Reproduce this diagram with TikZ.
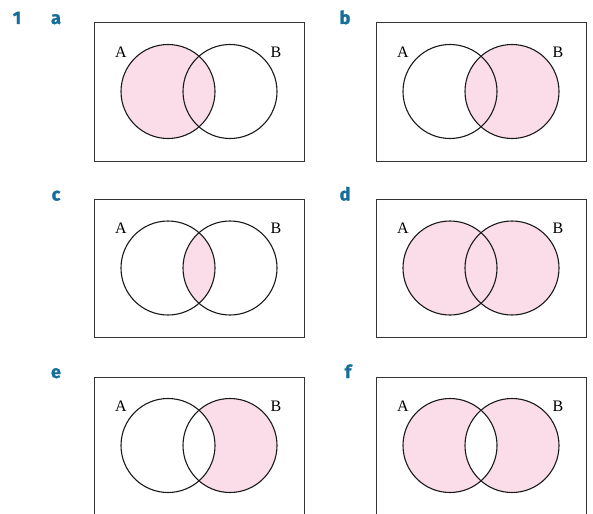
\documentclass[tikz,border=0pt]{standalone}
\usepackage{fontspec}
\setmainfont{Liberation Serif}
\newfontfamily\labfont[BoldFeatures={FakeBold=1.5}]{Fira Sans}
\definecolor{vpink}{HTML}{FADDE8}
\definecolor{vblue}{HTML}{156E99}
\tikzset{
  frame/.style={draw=black!80, line width=1pt},
  ring/.style={draw=black!90, line width=1.1pt},
  setlab/.style={font=\fontsize{16}{16}\selectfont, inner sep=0pt},
  partlab/.style={font=\labfont\bfseries\fontsize{18}{18}\selectfont, text=vblue, inner sep=0pt, anchor=base}
}
\newcommand\vpanel[4]{%
\begin{scope}[shift={(#1,#2)}]
  #4
  \draw[frame] (94,23) rectangle (304,161);
  \draw[ring] (168,91.5) circle (47);
  \draw[ring] (230,91.5) circle (47);
  \node[setlab] (#3A) at (121,52) {A};
  \node[setlab] (#3B) at (276,52) {B};
\end{scope}}
\newcommand\fillA{\fill[vpink] (168,91.5) circle (47);}
\newcommand\fillB{\fill[vpink] (230,91.5) circle (47);}
\begin{document}
\begin{tikzpicture}[x=1pt,y=-1pt]
\useasboundingbox (0,0) rectangle (593,513);
\clip (0,0) rectangle (593,513);
\node[partlab] (n1) at (17,24) {1};
\node[partlab] (la) at (56,24) {a};
\node[partlab] (lb) at (345,24) {b};
\node[partlab] (lc) at (56,200.5) {c};
\node[partlab] (ld) at (345,200.5) {d};
\node[partlab] (le) at (56,378) {e};
\node[partlab] (lf) at (348,378) {f};
% a: A
\vpanel{0}{0}{pa}{\fillA}
% b: B
\vpanel{282}{0}{pb}{\fillB}
% c: A and B
\vpanel{0}{176.5}{pc}{\begin{scope}\clip (168,91.5) circle (47); \fillB\end{scope}}
% d: A or B
\vpanel{282}{176.5}{pd}{\fillA\fillB}
% e: B only
\vpanel{0}{354}{pe}{\fillB\fill[white] (168,91.5) circle (47);}
% f: symmetric difference
\vpanel{282}{354}{pf}{\fillA\fillB\begin{scope}\clip (168,91.5) circle (47); \fill[white] (230,91.5) circle (47);\end{scope}}
\end{tikzpicture}
\end{document}
